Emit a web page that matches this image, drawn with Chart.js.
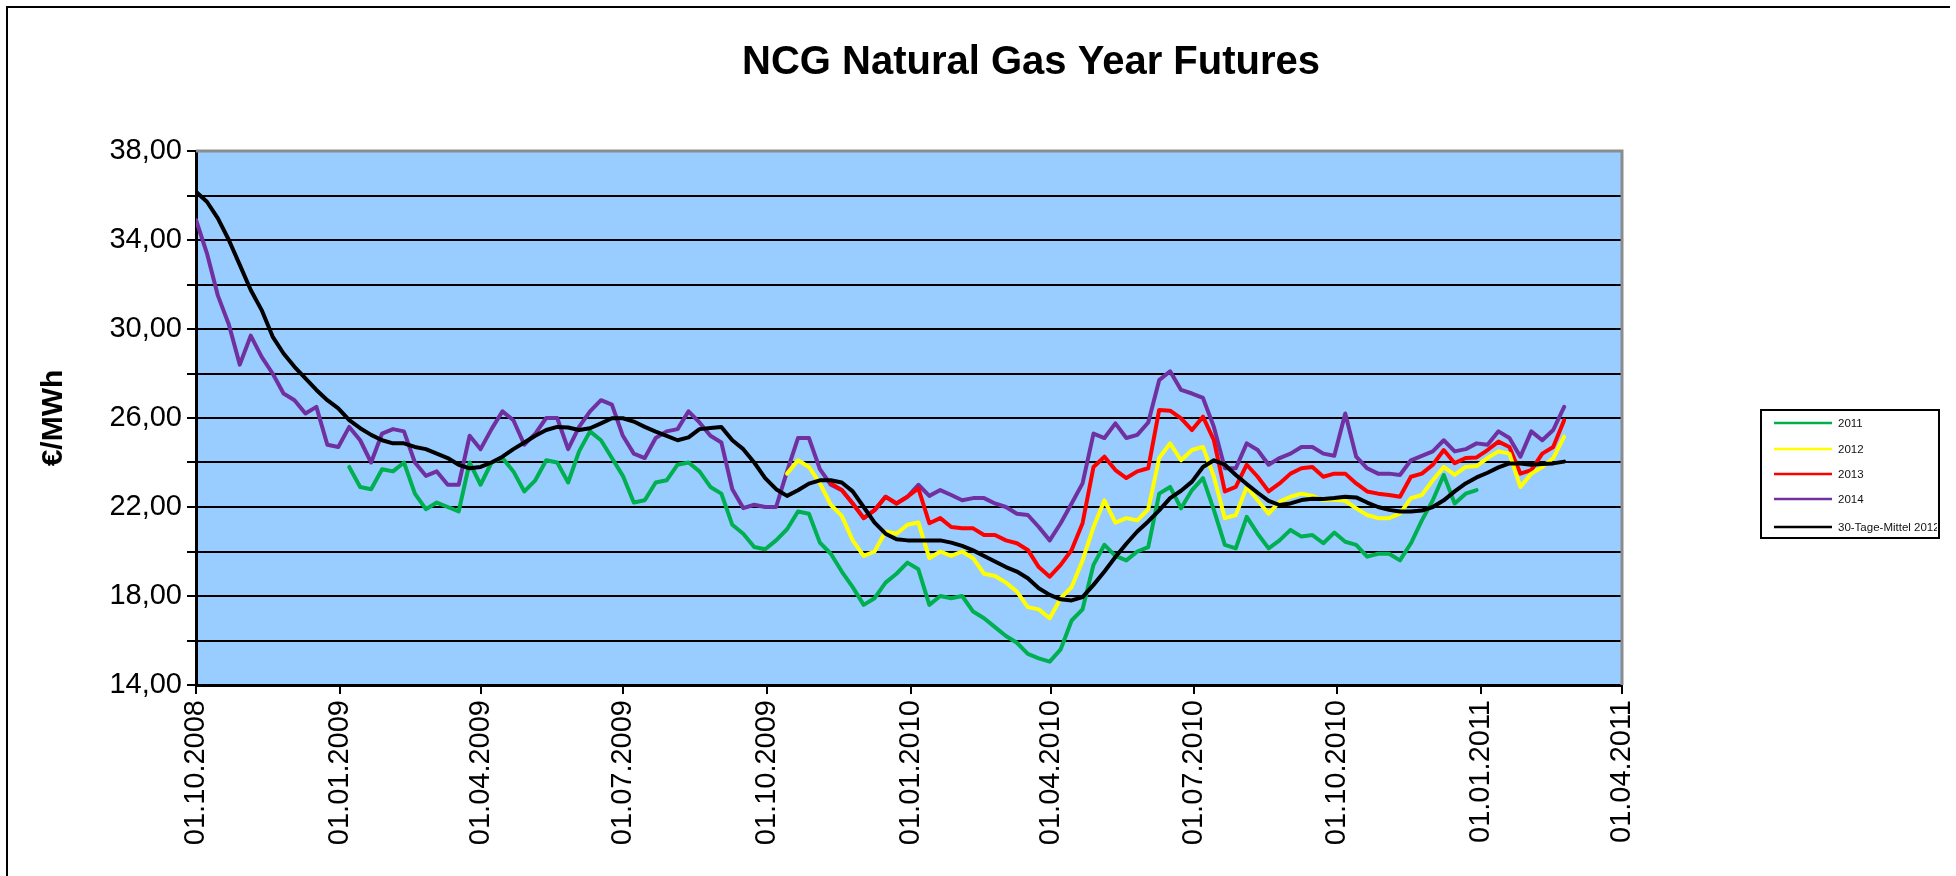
<!DOCTYPE html>
<html>
<head>
<meta charset="utf-8">
<script src="https://cdn.jsdelivr.net/npm/chart.js@4.4.1/dist/chart.umd.min.js"></script>
<style>
  html, body { margin: 0; padding: 0; background: #fff; }
  #wrap { width: 1956px; height: 876px; }
</style>
</head>
<body>
<div id="wrap"><canvas id="canvas" width="1956" height="876"></canvas></div>
<script>
// x values are days since 01.10.2008, series are sampled weekly
const tickDays = [0, 92, 182, 273, 365, 457, 547, 638, 730, 822, 912]
const tickLabels = ['01.10.2008', '01.01.2009', '01.04.2009', '01.07.2009', '01.10.2009',
  '01.01.2010', '01.04.2010', '01.07.2010', '01.10.2010', '01.01.2011', '01.04.2011']

const seriesNames = ['2011', '2012', '2013', '2014', '30-Tage-Mittel 2012']
const seriesColors = ['#00B050', '#FFFF00', '#FF0000', '#7030A0', '#000000']

// first week index of each series
const startWeek = [14, 54, 58, 0, 0]

const y2011 = [
  23.8, 22.9, 22.8, 23.7, 23.6, 24.0,
  22.6, 21.9, 22.2, 22.0, 21.8, 24.0, 23.0, 24.0, 24.2, 23.6,
  22.7, 23.2, 24.1, 24.0, 23.1, 24.5, 25.4, 25.0, 24.2, 23.4,
  22.2, 22.3, 23.1, 23.2, 23.9, 24.0, 23.6, 22.9, 22.6, 21.2,
  20.8, 20.2, 20.1, 20.5, 21.0, 21.8, 21.7, 20.4, 19.9, 19.1,
  18.4, 17.6, 17.9, 18.6, 19.0, 19.5, 19.2, 17.6, 18.0, 17.9,
  18.0, 17.3, 17.0, 16.6, 16.2, 15.9, 15.4, 15.2, 15.05, 15.6,
  16.9, 17.4, 19.4, 20.3, 19.8, 19.6, 20.0, 20.2, 22.6, 22.9,
  21.94, 22.76, 23.3, 21.86, 20.3, 20.14, 21.56, 20.8, 20.14, 20.5,
  20.97, 20.67, 20.74, 20.37, 20.85, 20.44, 20.3, 19.77, 19.9, 19.9,
  19.6, 20.37, 21.4, 22.3, 23.44, 22.16, 22.6, 22.76
]

const y2012 = [
  23.5, 24.1, 23.8, 23.06, 22.1, 21.6,
  20.5, 19.8, 20.0, 20.9, 20.8, 21.2, 21.3, 19.7, 20.0, 19.8,
  20.0, 19.7, 19.0, 18.9, 18.6, 18.2, 17.5, 17.4, 17.0, 17.9,
  18.4, 19.6, 21.1, 22.3, 21.3, 21.5, 21.4, 21.9, 24.2, 24.86,
  24.1, 24.56, 24.7, 23.36, 21.5, 21.64, 22.9, 22.3, 21.7, 22.24,
  22.46, 22.6, 22.5, 22.3, 22.34, 22.28, 21.94, 21.64, 21.5, 21.5,
  21.7, 22.4, 22.54, 23.2, 23.8, 23.44, 23.8, 23.84, 24.2, 24.5,
  24.4, 22.9, 23.5, 23.8, 24.2, 25.16
]

const y2013 = [
  23.06, 22.76,
  22.16, 21.5, 21.86, 22.46, 22.16, 22.46, 22.84, 21.27, 21.5, 21.1,
  21.04, 21.04, 20.74, 20.74, 20.5, 20.37, 20.07, 19.3, 18.87, 19.4,
  20.07, 21.27, 23.8, 24.26, 23.66, 23.3, 23.6, 23.74, 26.36, 26.33,
  25.98, 25.46, 26.06, 25.0, 22.7, 22.9, 23.9, 23.36, 22.7, 23.06,
  23.5, 23.74, 23.8, 23.36, 23.5, 23.5, 23.06, 22.7, 22.6, 22.54,
  22.46, 23.36, 23.5, 23.9, 24.56, 23.97, 24.2, 24.23, 24.56, 24.94,
  24.7, 23.5, 23.66, 24.4, 24.7, 25.9
]

const y2014 = [
  34.9, 33.4, 31.5, 30.2, 28.4, 29.7, 28.75, 28.0, 27.1, 26.8,
  26.2, 26.5, 24.8, 24.7, 25.6, 25.0, 24.0, 25.3, 25.5, 25.4,
  24.0, 23.4, 23.6, 23.0, 23.0, 25.2, 24.6, 25.5, 26.3, 25.9,
  24.8, 25.3, 26.0, 26.0, 24.6, 25.6, 26.3, 26.8, 26.6, 25.2,
  24.4, 24.2, 25.1, 25.4, 25.5, 26.3, 25.8, 25.2, 24.9, 22.8,
  21.95, 22.1, 22.0, 22.0, 23.6, 25.1, 25.1, 23.7, 23.0, 22.76,
  22.16, 21.5, 21.86, 22.46, 22.16, 22.46, 23.0, 22.5, 22.76, 22.54,
  22.3, 22.4, 22.4, 22.16, 22.0, 21.7, 21.64, 21.1, 20.5, 21.27,
  22.16, 23.06, 25.3, 25.1, 25.76, 25.1, 25.24, 25.8, 27.7, 28.1,
  27.26, 27.1, 26.9, 25.6, 23.74, 23.74, 24.86, 24.56, 23.9, 24.2,
  24.4, 24.7, 24.7, 24.4, 24.3, 26.2, 24.26, 23.74, 23.5, 23.5,
  23.44, 24.1, 24.3, 24.5, 25.0, 24.5, 24.6, 24.86, 24.8, 25.4,
  25.1, 24.26, 25.4, 25.0, 25.46, 26.5
]

const mean30 = [
  36.17, 35.72, 34.97, 34.0, 32.88, 31.75, 30.85, 29.66, 28.9, 28.3,
  27.78, 27.26, 26.8, 26.43, 25.9, 25.54, 25.24, 25.0, 24.86, 24.86,
  24.7, 24.6, 24.4, 24.2, 23.9, 23.74, 23.8, 24.0, 24.26, 24.6,
  24.9, 25.2, 25.46, 25.6, 25.57, 25.46, 25.54, 25.76, 25.99, 25.99,
  25.84, 25.6, 25.39, 25.2, 25.0, 25.13, 25.5, 25.55, 25.6, 25.0,
  24.6, 24.0, 23.3, 22.8, 22.5, 22.75, 23.05, 23.2, 23.2, 23.1,
  22.7, 22.0, 21.3, 20.8, 20.55, 20.5, 20.5, 20.5, 20.5, 20.4,
  20.25, 20.05, 19.8, 19.55, 19.3, 19.1, 18.8, 18.35, 18.05, 17.85,
  17.8, 17.95, 18.5, 19.1, 19.75, 20.35, 20.9, 21.35, 21.85, 22.4,
  22.73, 23.14, 23.8, 24.1, 23.9, 23.44, 23.03, 22.64, 22.28, 22.09,
  22.16, 22.31, 22.37, 22.36, 22.4, 22.46, 22.43, 22.2, 22.0, 21.87,
  21.8, 21.8, 21.84, 22.0, 22.3, 22.7, 23.06, 23.33, 23.54, 23.78,
  23.96, 23.96, 23.9, 23.93, 23.96, 24.04
]

const seriesValues = [y2011, y2012, y2013, y2014, mean30]
// drawing order: lower is on top
const drawOrder = [1, 2, 3, 4, 0]

function weekPoints(values, start) {
  return values.map((v, i) => ({ x: (start + i) * 7, y: v }))
}

const FONT = "'Liberation Sans', Arial, sans-serif"

const datasets = seriesNames.map((name, i) => ({
  label: name,
  data: weekPoints(seriesValues[i], startWeek[i]),
  borderColor: seriesColors[i],
  backgroundColor: seriesColors[i],
  borderWidth: 4,
  pointRadius: 0,
  tension: 0,
  borderJoinStyle: 'round',
  borderCapStyle: 'round',
  order: drawOrder[i],
}))

const excelLook = {
  id: 'excelLook',
  beforeDraw(chart) {
    const { ctx, chartArea: a } = chart
    ctx.save()
    ctx.fillStyle = '#fff'
    ctx.fillRect(0, 0, chart.width, chart.height)
    ctx.fillStyle = '#99CCFF'
    ctx.fillRect(a.left, a.top, a.right - a.left, a.bottom - a.top)
    // chart frame
    ctx.strokeStyle = '#000'
    ctx.lineWidth = 2
    ctx.beginPath()
    ctx.moveTo(7, 880)
    ctx.lineTo(7, 7)
    ctx.lineTo(1950, 7)
    ctx.stroke()
    ctx.restore()
  },
  beforeDatasetsDraw(chart) {
    const { ctx, chartArea: a } = chart
    ctx.save()
    ctx.strokeStyle = '#8c8c8c'
    ctx.lineWidth = 3
    ctx.beginPath()
    ctx.moveTo(a.left, a.top)
    ctx.lineTo(a.right, a.top)
    ctx.lineTo(a.right, a.bottom)
    ctx.stroke()
    ctx.restore()
  },
  afterDraw(chart) {
    const { ctx } = chart
    ctx.save()
    // title
    ctx.fillStyle = '#000'
    ctx.font = 'bold 40px ' + FONT
    ctx.textAlign = 'center'
    ctx.textBaseline = 'middle'
    ctx.fillText('NCG Natural Gas Year Futures', 1031, 63)

    // legend
    const box = { x: 1761, y: 410, w: 178, h: 128 }
    ctx.strokeStyle = '#000'
    ctx.lineWidth = 2
    ctx.strokeRect(box.x, box.y, box.w, box.h)
    ctx.beginPath()
    ctx.rect(box.x + 1, box.y + 1, box.w - 3, box.h - 2)
    ctx.clip()
    const rows = [423, 449, 474, 499, 527]
    ctx.font = '11.5px ' + FONT
    ctx.textAlign = 'left'
    seriesNames.forEach((name, i) => {
      ctx.strokeStyle = seriesColors[i]
      ctx.lineWidth = 2.5
      ctx.beginPath()
      ctx.moveTo(1774, rows[i])
      ctx.lineTo(1832, rows[i])
      ctx.stroke()
      ctx.fillStyle = '#111'
      ctx.fillText(name, 1838, rows[i] + 1)
    })
    ctx.restore()
  }
}

const config = {
  type: 'line',
  data: { datasets: datasets },
  options: {
    responsive: false,
    animation: false,
    devicePixelRatio: 1,
    layout: { padding: { top: 151, right: 334, bottom: 0, left: 0 } },
    plugins: {
      legend: { display: false },
      title: { display: false },
      tooltip: { enabled: false },
    },
    scales: {
      x: {
        type: 'linear',
        min: 0,
        max: 912,
        afterBuildTicks(scale) {
          scale.ticks = tickDays.map(v => ({ value: v }))
        },
        afterFit(scale) {
          scale.height = 191
        },
        ticks: {
          autoSkip: false,
          maxRotation: 90,
          minRotation: 90,
          padding: 6,
          color: '#000',
          font: { family: FONT, size: 29 },
          callback: (value) => tickLabels[tickDays.indexOf(value)],
        },
        grid: {
          drawOnChartArea: false,
          drawTicks: true,
          tickLength: 9,
          color: '#000',
          lineWidth: 2,
        },
        border: { color: '#000', width: 3 },
      },
      y: {
        type: 'linear',
        min: 14,
        max: 38,
        afterFit(scale) {
          scale.width = 196
        },
        ticks: {
          stepSize: 2,
          padding: 5,
          color: '#000',
          font: { family: FONT, size: 29 },
          callback: (value) => ((value - 14) % 4 === 0 ? value.toFixed(2).replace('.', ',') : ''),
        },
        grid: {
          color: (c) => (c.tick && c.tick.value === 38 ? 'rgba(0,0,0,0)' : '#000'),
          lineWidth: 2,
          tickLength: 9,
          tickColor: '#000',
        },
        border: { color: '#000', width: 3 },
        title: {
          display: true,
          text: '€/MWh',
          color: '#000',
          font: { family: FONT, size: 30, weight: 'bold' },
          padding: { top: 36, bottom: 0 },
        },
      },
    },
  },
  plugins: [excelLook],
}

const canvas = document.getElementById('canvas')
const chart = new Chart(canvas, config)
</script>
</body>
</html>
